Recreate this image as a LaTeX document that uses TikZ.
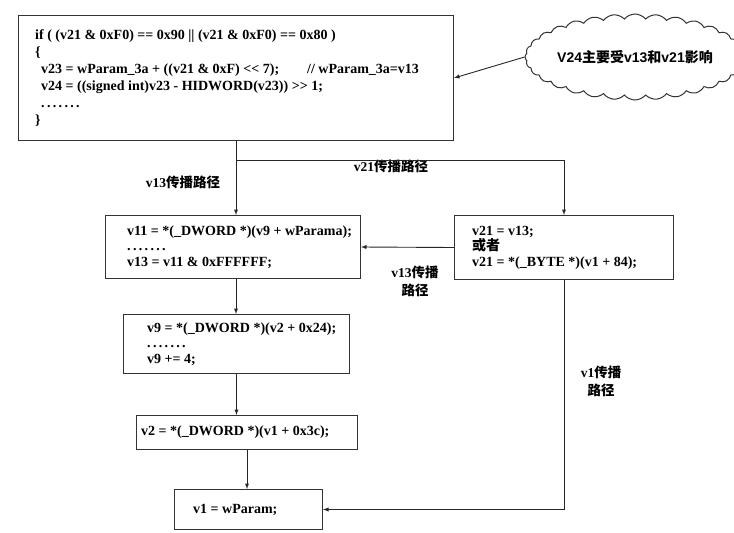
\documentclass[tikz,border=0pt]{standalone}
\usepackage{fontspec}
\setmainfont[Ligatures=TeXOff]{Liberation Serif}
\newfontfamily\cjk{Noto Sans CJK SC}
\newfontfamily\cloudfont{Liberation Sans}
\usetikzlibrary{arrows,shapes.symbols}
\tikzstyle{frame}=[draw=black!80, line width=1pt, rectangle, anchor=north west, inner sep=0pt]
\tikzstyle{code}=[anchor=west, align=left, inner sep=0pt,
    font=\bfseries\fontsize{14}{15.5}\selectfont]
\tikzstyle{path label}=[align=center, font=\bfseries\fontsize{13.5}{18}\selectfont]
\tikzstyle{flow}=[draw=black!85, line width=0.9pt, ->]
\newcommand{\frm}{\node[frame]}
\newcommand{\code}{\node[code]}
\newcommand{\zh}[1]{{\cjk\bfseries #1}}
\newcommand{\dotsline}{.\,.\,.\,.\,.\,.\,.}

\begin{document}
\begin{tikzpicture}[x=1pt, y=-1pt, >=latex]
\useasboundingbox (0,0) rectangle (734,533);
% boxes
\frm[minimum width=435pt, minimum height=125pt] (cond) at (18,15) {};
\frm[minimum width=255pt, minimum height=63pt] (v11) at (105,215) {};
\frm[minimum width=219pt, minimum height=64pt] (v21) at (454,215) {};
\frm[minimum width=226pt, minimum height=59pt] (v9) at (123,314) {};
\frm[minimum width=221pt, minimum height=34pt] (v2) at (136,415) {};
\frm[minimum width=148pt, minimum height=40pt] (v1) at (174,489) {};
\node[cloud, draw=black!80, line width=1pt, cloud puffs=32, cloud puff arc=100,
      cloud ignores aspect, minimum width=194pt, minimum height=86pt, inner sep=0pt,
      font=\bfseries\fontsize{14}{16}\selectfont] (note) at (635,57)
    {\cloudfont V24\zh{主要受}v13\zh{和}v21\zh{影响}};

% code
\code[font=\bfseries\fontsize{14}{17}\selectfont] (cond text) at ([xshift=17pt]cond.west)
    {if ( (v21 \& 0xF0) == 0x90 || (v21 \& 0xF0) == 0x80 )\\
     \{\\
     \hspace{6pt}v23 = wParam\_3a + ((v21 \& 0xF) << 7);\hspace{28pt}// wParam\_3a=v13\\
     \hspace{6pt}v24 = ((signed int)v23 - HIDWORD(v23)) >> 1;\\
     \hspace{6pt}\dotsline\\
     \}};
\code (v11 text) at ([xshift=22pt]v11.west)
    {v11 = *(\_DWORD *)(v9 + wParama);\\ \dotsline\\ v13 = v11 \& 0xFFFFFF;};
\code (v21 text) at ([xshift=18pt]v21.west)
    {v21 = v13;\\ \zh{或者}\\ v21 = *(\_BYTE *)(v1 + 84);};
\code (v9 text) at ([xshift=24pt]v9.west)
    {v9 = *(\_DWORD *)(v2 + 0x24);\\ \dotsline\\ v9 += 4;};
\code (v2 text) at ([xshift=5pt]v2.west) {v2 = *(\_DWORD *)(v1 + 0x3c);};
\code (v1 text) at ([xshift=19pt]v1.west) {v1 = wParam;};

% labels
\node[path label] (lbl13) at (183,182) {v13\zh{传播路径}};
\node[path label] (lbl21) at (391,166) {v21\zh{传播路径}};
\node[path label] (lbl13b) at (415,281) {v13\zh{传播}\\\zh{路径}};
\node[path label] (lbl1) at (601,381) {v1\zh{传播}\\\zh{路径}};

% arrows
\coordinate (fork) at ([yshift=-19pt]cond.south);
\draw[flow] (cond.south) -- (cond.south |- v11.north);
\draw[flow] (fork) -| (v21.north);
\draw[flow] (v21.west) -- (v11.east);
\draw[flow] (cond.south |- v11.south) -- (cond.south |- v9.north);
\draw[flow] (v9.south) -- (v9.south |- v2.north);
\draw[flow] (v2.south) -- (v2.south |- v1.north);
\draw[flow] (v21.south) |- (v1.east);
\draw[flow] (note.west) -- (cond.east);
\end{tikzpicture}
\end{document}
